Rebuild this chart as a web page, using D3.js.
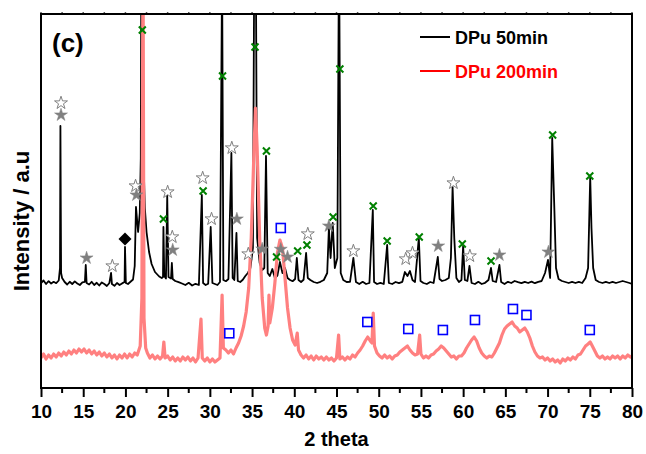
<!DOCTYPE html>
<html><head><meta charset="utf-8">
<script src="https://cdn.jsdelivr.net/npm/d3@7"></script>
<style>
body{margin:0;background:#fff}
text{font-family:"Liberation Sans",Arial,sans-serif;font-weight:bold}
</style>
</head><body>
<svg id="chart" width="646" height="454"></svg>
<script>
// 2 theta vs intensity (arbitrary counts)
const dpu50 = [
[10.0,1050],[10.3,1075],[10.6,1040],[10.9,1068],[11.2,1045],[11.5,1062],[11.8,1048],[12.1,1075],[12.25,1200],[12.3,2620],[12.38,1150],[12.5,1100],
[12.8,1060],[13.1,1035],[13.4,1062],[13.7,1040],[14.0,1066],[14.3,1045],[14.6,1030],[14.9,1056],[15.2,1062],[15.3,1230],[15.4,1050],[15.7,1035],
[16.0,1062],[16.3,1030],[16.6,1052],[16.9,1025],[17.2,1056],[17.5,1040],[17.8,1020],[18.1,1050],[18.3,1150],[18.4,1040],[18.7,1022],[19.0,1050],
[19.3,1030],[19.6,1046],[19.9,1060],[19.95,1410],[20.05,1050],[20.3,1040],[20.6,1062],[20.9,1085],[21.1,1220],[21.25,1810],[21.5,1560],[21.7,1750],
[21.82,2300],[21.92,5500],[22.1,2400],[22.3,1800],[22.5,1560],[22.8,1360],[23.1,1240],[23.5,1160],[24.0,1115],[24.3,1100],[24.45,1110],[24.5,1610],
[24.6,1120],[24.8,1095],[24.95,1920],[25.1,1110],[25.4,1095],[25.5,1250],[25.6,1090],[25.9,1070],[26.3,1058],[26.7,1045],[27.1,1030],[27.5,1052],
[27.9,1025],[28.3,1042],[28.7,1030],[29.05,1930],[29.2,1050],[29.5,1030],[29.8,1042],[30.1,1610],[30.3,1050],[30.6,1040],[30.9,1030],[31.2,1060],
[31.45,4200],[31.6,1080],[31.9,1068],[32.2,1090],[32.55,2350],[32.7,1100],[32.9,1080],[33.15,1550],[33.3,1070],[33.6,1060],[33.9,1082],[34.2,1120],
[34.5,1150],[34.8,1200],[35.1,1400],[35.35,6000],[35.6,1500],[35.9,1250],[36.2,1180],[36.45,1200],[36.65,2320],[36.85,1150],[37.1,1120],[37.4,1190],
[37.7,1100],[38.0,1125],[38.3,1260],[38.6,1150],[38.9,1200],[39.2,1100],[39.5,1080],[39.8,1068],[40.1,1090],[40.3,1300],[40.5,1080],[40.8,1060],
[41.1,1082],[41.4,1350],[41.6,1100],[41.9,1080],[42.3,1060],[42.7,1050],[43.1,1062],[43.5,1080],[43.9,1150],[44.1,1600],[44.3,1300],[44.55,1650],
[44.8,1200],[45.1,1300],[45.3,4500],[45.5,1150],[45.8,1080],[46.2,1060],[46.6,1062],[47.0,1300],[47.3,1060],[47.7,1040],[48.1,1062],[48.5,1040],
[48.9,1050],[49.3,1780],[49.45,1060],[49.8,1040],[50.2,1052],[50.6,1040],[51.0,1430],[51.2,1050],[51.6,1040],[52.0,1060],[52.4,1048],[52.8,1062],
[53.1,1160],[53.4,1120],[53.7,1170],[54.0,1080],[54.3,1060],[54.75,1500],[54.95,1070],[55.3,1050],[55.7,1040],[56.1,1060],[56.5,1050],[57.0,1310],
[57.2,1090],[57.5,1070],[57.9,1080],[58.3,1100],[58.55,1300],[58.75,2010],[58.95,1500],[59.2,1100],[59.5,1060],[59.8,1080],[60.0,1420],[60.2,1080],
[60.5,1070],[60.75,1220],[61.0,1050],[61.4,1040],[61.8,1062],[62.2,1040],[62.6,1052],[63.0,1080],[63.3,1200],[63.5,1070],[63.9,1060],[64.3,1230],
[64.5,1060],[64.9,1040],[65.3,1062],[65.7,1050],[66.1,1070],[66.5,1058],[66.9,1048],[67.3,1062],[67.7,1050],[68.1,1064],[68.5,1048],[68.9,1062],
[69.3,1070],[69.7,1150],[70.05,1280],[70.3,1100],[70.55,2500],[70.8,1800],[71.0,1200],[71.3,1090],[71.7,1070],[72.1,1060],[72.5,1050],[72.9,1062],
[73.3,1050],[73.7,1062],[74.1,1050],[74.5,1100],[74.8,1200],[75.05,2110],[75.2,1600],[75.4,1200],[75.7,1080],[76.1,1060],[76.5,1050],[76.9,1062],
[77.3,1050],[77.7,1062],[78.1,1050],[78.5,1060],[78.9,1070],[79.3,1060],[79.7,1050],[80.0,1040]
];
const dpu200 = [
[10.0,300],[10.3,340],[10.6,290],[10.9,330],[11.2,300],[11.5,340],[11.8,310],[12.1,350],[12.4,320],[12.7,360],[13.0,330],[13.3,370],[13.6,340],
[13.9,380],[14.2,350],[14.5,390],[14.8,360],[15.1,390],[15.4,350],[15.7,380],[16.0,340],[16.3,370],[16.6,330],[16.9,360],[17.2,320],[17.5,350],
[17.8,310],[18.1,340],[18.4,300],[18.7,330],[19.0,290],[19.3,330],[19.6,300],[19.9,340],[20.2,300],[20.5,340],[20.8,310],[21.1,350],[21.4,330],
[21.75,420],[21.95,900],[22.08,4500],[22.2,700],[22.4,400],[22.6,350],[22.9,300],[23.2,330],[23.5,290],[23.8,320],[24.1,290],[24.4,320],[24.55,460],
[24.7,300],[25.0,320],[25.3,280],[25.6,310],[25.9,270],[26.2,300],[26.5,270],[26.8,310],[27.1,280],[27.4,310],[27.7,270],[28.0,300],[28.3,260],
[28.6,300],[28.95,690],[29.1,300],[29.4,270],[29.7,300],[30.0,260],[30.3,290],[30.6,260],[30.9,280],[31.2,300],[31.45,930],[31.6,400],[31.9,380],
[32.2,350],[32.5,380],[32.8,340],[33.1,400],[33.4,450],[33.7,520],[34.0,620],[34.3,760],[34.6,1000],[34.9,1500],[35.2,2300],[35.4,2800],[35.6,2400],
[35.9,1500],[36.2,900],[36.5,600],[36.7,530],[36.9,620],[37.0,930],[37.1,650],[37.4,800],[37.7,1050],[38.0,1350],[38.3,1480],[38.6,1400],[38.9,1100],
[39.2,800],[39.5,600],[39.8,480],[40.1,430],[40.35,550],[40.5,380],[40.8,330],[41.1,300],[41.4,330],[41.7,290],[42.0,320],[42.3,280],[42.6,320],
[42.9,290],[43.2,310],[43.5,280],[43.8,310],[44.1,280],[44.4,300],[44.7,270],[45.0,300],[45.25,530],[45.4,290],[45.7,310],[46.0,280],[46.3,310],
[46.6,290],[46.9,330],[47.2,310],[47.5,350],[47.8,380],[48.1,420],[48.4,470],[48.7,510],[49.0,470],[49.2,450],[49.35,750],[49.5,420],[49.8,350],
[50.1,320],[50.4,300],[50.7,330],[51.0,300],[51.3,320],[51.6,290],[51.9,320],[52.2,330],[52.5,360],[52.8,380],[53.1,400],[53.4,420],[53.7,380],
[54.0,350],[54.3,330],[54.6,340],[54.85,530],[55.0,340],[55.3,300],[55.6,320],[55.9,300],[56.2,330],[56.5,340],[56.8,370],[57.1,390],[57.4,420],
[57.7,400],[58.0,370],[58.3,340],[58.6,310],[58.9,320],[59.2,290],[59.5,320],[59.8,320],[60.1,350],[60.4,400],[60.7,440],[61.0,480],[61.3,510],
[61.6,470],[61.9,400],[62.2,350],[62.5,320],[62.8,300],[63.1,320],[63.4,310],[63.7,350],[64.0,400],[64.3,450],[64.6,530],[64.9,590],[65.2,620],
[65.5,640],[65.8,660],[66.1,620],[66.4,600],[66.7,560],[67.0,580],[67.3,600],[67.6,560],[67.9,500],[68.2,420],[68.5,360],[68.8,320],[69.1,300],
[69.4,310],[69.7,280],[70.0,300],[70.3,270],[70.6,290],[70.9,260],[71.2,280],[71.5,250],[71.8,290],[72.1,270],[72.4,300],[72.7,280],[73.0,310],
[73.3,290],[73.6,330],[73.9,340],[74.2,380],[74.5,420],[74.8,440],[75.05,460],[75.3,420],[75.6,370],[75.9,320],[76.2,300],[76.5,320],[76.8,290],
[77.1,310],[77.4,290],[77.7,320],[78.0,300],[78.3,320],[78.6,290],[78.9,320],[79.2,300],[79.5,330],[79.8,310],[80.0,320]
];
// phase markers [2theta, intensity]
const openStars = [[12.37,2850],[18.45,1220],[21.2,2020],[25.0,1960],[25.55,1510],[29.15,2100],[30.2,1690],[32.6,2400],[34.55,1340],[41.6,1540],[47.0,1370],[53.2,1290],[54.0,1350],[58.85,2050],[60.8,1320]];
const filledStars = [[12.37,2730],[15.4,1300],[21.3,1930],[25.6,1380],[33.2,1690],[36.2,1390],[38.4,1387],[39.2,1310],[44.1,1620],[57.05,1420],[64.3,1330],[70.1,1360]];
const crosses = [[22.0,3580],[31.5,3120],[35.35,3410],[36.7,2370],[45.4,3190],[24.5,1690],[29.2,1970],[37.9,1310],[40.4,1370],[41.5,1430],[44.6,1710],[49.35,1820],[51.0,1470],[54.8,1510],[59.9,1440],[63.3,1270],[70.6,2530],[75.0,2120]];
const squares = [[32.3,547],[38.4,1600],[48.65,660],[53.5,590],[57.6,580],[61.4,680],[65.9,790],[67.5,730],[75.0,580]];
const diamonds = [[19.95,1490]];
const xTicks = [10,15,20,25,30,35,40,45,50,55,60,65,70,75,80];
const seriesNames = ["DPu 50min","DPu 200min"];

const svg = d3.select("#chart");
const L = 41, R = 632, T = 14, B = 388;
const x = d3.scaleLinear().domain([10,80]).range([L,R]);
const y = d3.scaleLinear().domain([0,3740]).range([B,T]);

svg.append("defs").append("clipPath").attr("id","clip")
  .append("rect").attr("x",L).attr("y",T).attr("width",R-L).attr("height",B-T);

const line = d3.line().x(d=>x(d[0])).y(d=>y(d[1]));
const g = svg.append("g").attr("clip-path","url(#clip)");

g.append("path").datum(dpu50).attr("d",line).attr("fill","none")
  .attr("stroke","#000").attr("stroke-width",1.8).attr("stroke-linejoin","round");
g.append("path").datum(dpu200).attr("d",line).attr("fill","none")
  .attr("stroke","#ff8080").attr("stroke-width",3.2).attr("stroke-linejoin","round");

// markers
const starSym = d3.symbol().type(d3.symbolStar).size(52);
g.selectAll(".ostar").data(openStars).join("path").attr("class","ostar")
  .attr("d",starSym).attr("transform",d=>`translate(${x(d[0])},${y(d[1])})`)
  .attr("fill","#fff").attr("stroke","#808080").attr("stroke-width",1);
g.selectAll(".fstar").data(filledStars).join("path").attr("class","fstar")
  .attr("d",starSym).attr("transform",d=>`translate(${x(d[0])},${y(d[1])})`)
  .attr("fill","#808080").attr("stroke","#808080").attr("stroke-width",0.5);
g.selectAll(".dia").data(diamonds).join("path").attr("class","dia")
  .attr("d",d3.symbol().type(d3.symbolSquare).size(85))
  .attr("transform",d=>`translate(${x(d[0])},${y(d[1])}) rotate(45)`)
  .attr("fill","#000");
g.selectAll(".cross").data(crosses).join("path").attr("class","cross")
  .attr("d","M-3.5,-3.5L3.5,3.5M-3.5,3.5L3.5,-3.5")
  .attr("transform",d=>`translate(${x(d[0])},${y(d[1])})`)
  .attr("stroke","#008000").attr("stroke-width",2).attr("fill","none");
g.selectAll(".sq").data(squares).join("rect").attr("class","sq")
  .attr("x",d=>x(d[0])-4.5).attr("y",d=>y(d[1])-4.5).attr("width",9).attr("height",9)
  .attr("fill","none").attr("stroke","#0000ff").attr("stroke-width",1.6);

// axes
const minor = d3.range(0,15).map(i=>12.5+5*i).filter(v=>v<80);
const xa = svg.append("g").attr("transform",`translate(0,${B})`);
xa.call(d3.axisBottom(x).tickValues(xTicks).tickSize(9).tickFormat(d3.format("d")));
xa.selectAll(".tick line").attr("stroke","#000").attr("stroke-width",2);
xa.selectAll(".tick text").attr("font-size",19).attr("dy","0.95em").attr("fill","#000");
xa.select(".domain").remove();
xa.selectAll(".mt").data(minor).join("line").attr("class","mt")
  .attr("x1",d=>x(d)).attr("x2",d=>x(d)).attr("y1",0).attr("y2",5)
  .attr("stroke","#000").attr("stroke-width",2);
// top ticks
svg.selectAll(".tt").data(xTicks.concat(minor)).join("line").attr("class","tt")
  .attr("x1",d=>x(d)).attr("x2",d=>x(d)).attr("y1",T).attr("y2",T-2)
  .attr("stroke","#555").attr("stroke-width",1.5);

svg.append("rect").attr("x",L).attr("y",T).attr("width",R-L).attr("height",B-T)
  .attr("fill","none").attr("stroke","#000").attr("stroke-width",2);

// labels
svg.append("text").attr("x",(L+R)/2).attr("y",446).attr("text-anchor","middle")
  .attr("font-size",20).text("2 theta");
svg.append("text").attr("transform",`translate(29,${(T+B)/2+20}) rotate(-90)`)
  .attr("text-anchor","middle").attr("font-size",22).text("Intensity / a.u");
svg.append("text").attr("x",52).attr("y",52).attr("font-size",26).text("(c)");

// legend
const lg = svg.append("g");
const lc = ["#000","#ff0000"];
seriesNames.forEach((n,i)=>{
  const yy = 37 + i*34;
  lg.append("line").attr("x1",420).attr("x2",450).attr("y1",yy).attr("y2",yy)
    .attr("stroke",lc[i]).attr("stroke-width",2);
  lg.append("text").attr("x",455).attr("y",yy+7).attr("font-size",18).attr("fill",lc[i]).text(n);
});
</script>
</body></html>
